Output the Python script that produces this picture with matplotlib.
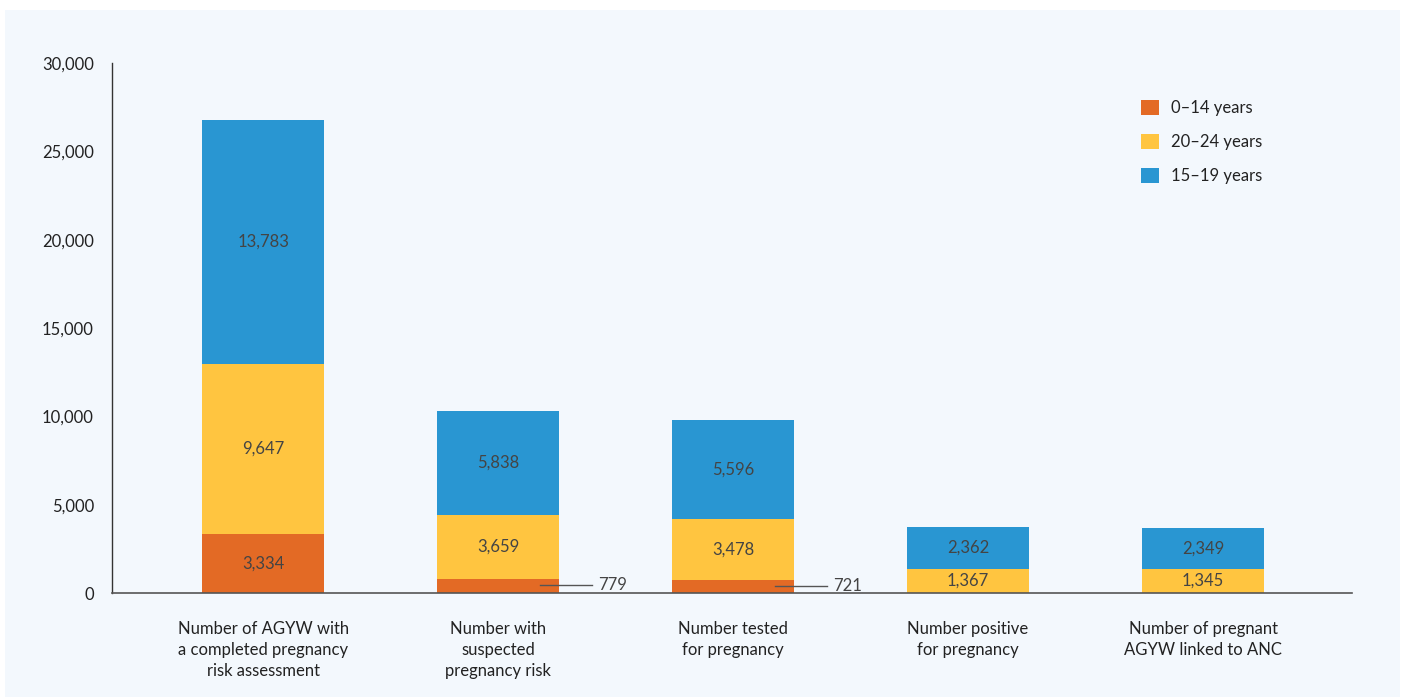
import matplotlib
matplotlib.use("Agg")
import matplotlib.pyplot as plt
from matplotlib.patches import Rectangle
import numpy as np

categories = ["Number of AGYW with\na completed pregnancy\nrisk assessment",
              "Number with\nsuspected\npregnancy risk",
              "Number tested\nfor pregnancy",
              "Number positive\nfor pregnancy",
              "Number of pregnant\nAGYW linked to ANC"]
age_0_14 = [3334, 779, 721, 0, 0]
age_20_24 = [9647, 3659, 3478, 1367, 1345]
age_15_19 = [13783, 5838, 5596, 2362, 2349]
series_names = ["0\u201314 years", "20\u201324 years", "15\u201319 years"]
yticks = [0, 5000, 10000, 15000, 20000, 25000, 30000]

colors = ["#e36a25", "#ffc540", "#2996d2"]
bg = "#f3f8fd"
txt = "#222222"
lbl = "#444444"
plt.rcParams['font.family'] = ['Lato', 'DejaVu Sans']
fs = 12

fig = plt.figure(figsize=(14.05, 6.97), dpi=100)
fig.patch.set_facecolor("white")
fig.add_artist(Rectangle((5/1405, 0), 1395/1405, 1 - 10/697, transform=fig.transFigure,
                         facecolor=bg, edgecolor="none", zorder=0))
ax = fig.add_axes([112/1405, 1 - 593/697, 1240/1405, 530/697])
ax.set_facecolor("none")

x = np.arange(len(categories))
w = 0.52
series = [age_0_14, age_20_24, age_15_19]
bottom = np.zeros(len(x))
for vals, c, name in zip(series, colors, series_names):
    vals = np.array(vals, dtype=float)
    ax.bar(x, vals, w, bottom=bottom, color=c, label=name, zorder=2)
    for xi, v, b in zip(x, vals, bottom):
        if v <= 0:
            continue
        if v < 1000:
            ym = b + v / 2 + 60
            ax.plot([xi + 0.18, xi + 0.40], [ym, ym], color="#555555", lw=1, zorder=3)
            ax.text(xi + 0.425, ym, f"{int(v):,}", ha="left", va="center",
                    fontsize=fs, color=lbl, zorder=3)
        else:
            ax.text(xi, b + v / 2, f"{int(v):,}", ha="center", va="center",
                    fontsize=fs, color=lbl, zorder=3)
    bottom += vals

ax.set_xlim(-0.643, 4.634)
ax.set_ylim(0, 30000)
ax.set_yticks(yticks)
ax.set_yticklabels([f"{t:,}" for t in yticks], fontsize=fs, color=txt)
ax.set_xticks(x)
ax.set_xticklabels(categories, fontsize=fs, color=txt, linespacing=1.4)
ax.tick_params(axis="y", length=0, pad=13)
ax.tick_params(axis="x", length=0, pad=20)
for s in ["top", "right"]:
    ax.spines[s].set_visible(False)
ax.spines["left"].set_color("#333333")
ax.spines["bottom"].set_color("#555555")
ax.spines["left"].set_linewidth(1)
ax.spines["bottom"].set_linewidth(1.2)

leg = ax.legend(loc="upper left", bbox_to_anchor=(1014/1240, 1 - 22/530), frameon=False,
                fontsize=fs, handlelength=1.05, handleheight=1.05, labelspacing=1.05,
                handletextpad=0.75)
for t in leg.get_texts():
    t.set_color(txt)

fig.savefig("out.png", dpi=100, facecolor="white")
